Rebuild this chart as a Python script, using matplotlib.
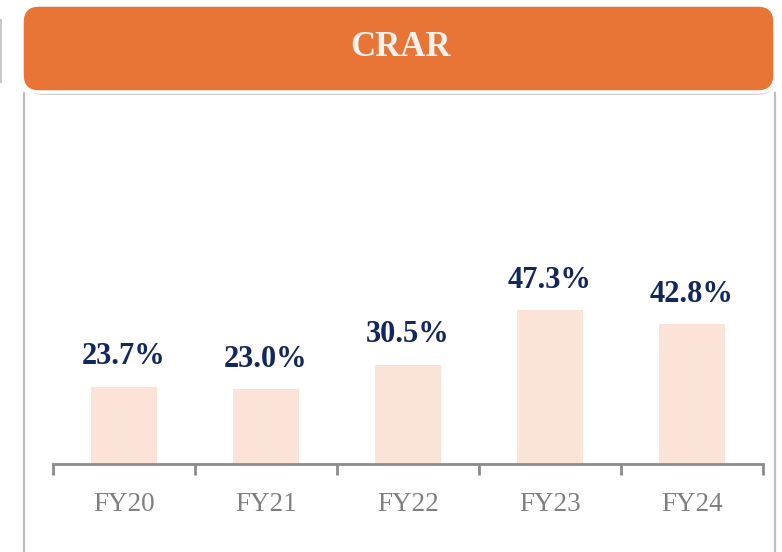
import matplotlib
matplotlib.use("Agg")
import matplotlib.pyplot as plt
from matplotlib.patches import FancyBboxPatch
from matplotlib.lines import Line2D

categories = ["FY20", "FY21", "FY22", "FY23", "FY24"]
values = [23.7, 23.0, 30.5, 47.3, 42.8]
labels = ["23.7%", "23.0%", "30.5%", "47.3%", "42.8%"]

W, H = 782, 552
fig = plt.figure(figsize=(W / 100, H / 100), dpi=100)
fig.patch.set_facecolor("white")

def fx(px):
    return px / W

def fy(py):
    return 1 - py / H

# panel borders
fig.add_artist(Line2D([fx(24), fx(24)], [fy(93), fy(552)], color="#BFBFBF", lw=1.6))
fig.add_artist(Line2D([fx(775), fx(775)], [fy(93), fy(552)], color="#BFBFBF", lw=1.6))
fig.add_artist(Line2D([fx(1), fx(1)], [fy(20), fy(82)], color="#C8C8C8", lw=1.5))

# header shadow + box
shadow = FancyBboxPatch((fx(24), fy(95)), fx(752), fy(8) - fy(95),
                        boxstyle="round,pad=0,rounding_size=0.025",
                        transform=fig.transFigure, facecolor="#D0D0D0",
                        edgecolor="none", mutation_aspect=W / H, zorder=1)
fig.add_artist(shadow)
header = FancyBboxPatch((fx(22), fy(92)), fx(753), fy(5) - fy(92),
                        boxstyle="round,pad=0,rounding_size=0.022",
                        transform=fig.transFigure, facecolor="#E87435",
                        edgecolor="white", lw=2.5, mutation_aspect=W / H, zorder=2)
fig.add_artist(header)
fig.text(fx(401), fy(48), "CRAR", color="#F4F1EE", fontsize=25, fontweight="bold",
         family="Liberation Serif", ha="center", va="center", zorder=3)

# axes
ax_left, ax_right = 53, 763
ax_bottom, ax_top = 464, 95
ax = fig.add_axes([fx(ax_left), fy(ax_bottom), fx(ax_right - ax_left), (ax_bottom - ax_top) / H])
ax.set_facecolor("none")
x = list(range(len(categories)))
ax.bar(x, values, width=0.46, color="#FBE3D7", zorder=2)
ax.set_xlim(-0.5, len(categories) - 0.5)
ax.set_ylim(0, 113.2)
for xi, v, lab in zip(x, values, labels):
    ax.annotate(lab, (xi, v), xytext=(0, 11), textcoords="offset points",
                ha="center", va="bottom", fontsize=22, fontweight="bold",
                color="#12275F", family="Liberation Serif")

for s in ["top", "right", "left"]:
    ax.spines[s].set_visible(False)
ax.spines["bottom"].set_color("#8C8C8C")
ax.spines["bottom"].set_linewidth(2)
ax.set_yticks([])
ax.set_xticks([i - 0.5 for i in range(len(categories) + 1)], minor=False)
ax.set_xticklabels([])
ax.tick_params(axis="x", which="major", length=8, width=2, color="#8C8C8C", direction="out")
ax.set_xticks(x, minor=True)
ax.set_xticklabels(categories, minor=True)
ax.tick_params(axis="x", which="minor", length=0, pad=20, labelsize=19.5, labelcolor="#7F7F7F")
for t in ax.get_xticklabels(minor=True):
    t.set_family("Liberation Serif")

fig.savefig("out.png", dpi=100, facecolor="white")
